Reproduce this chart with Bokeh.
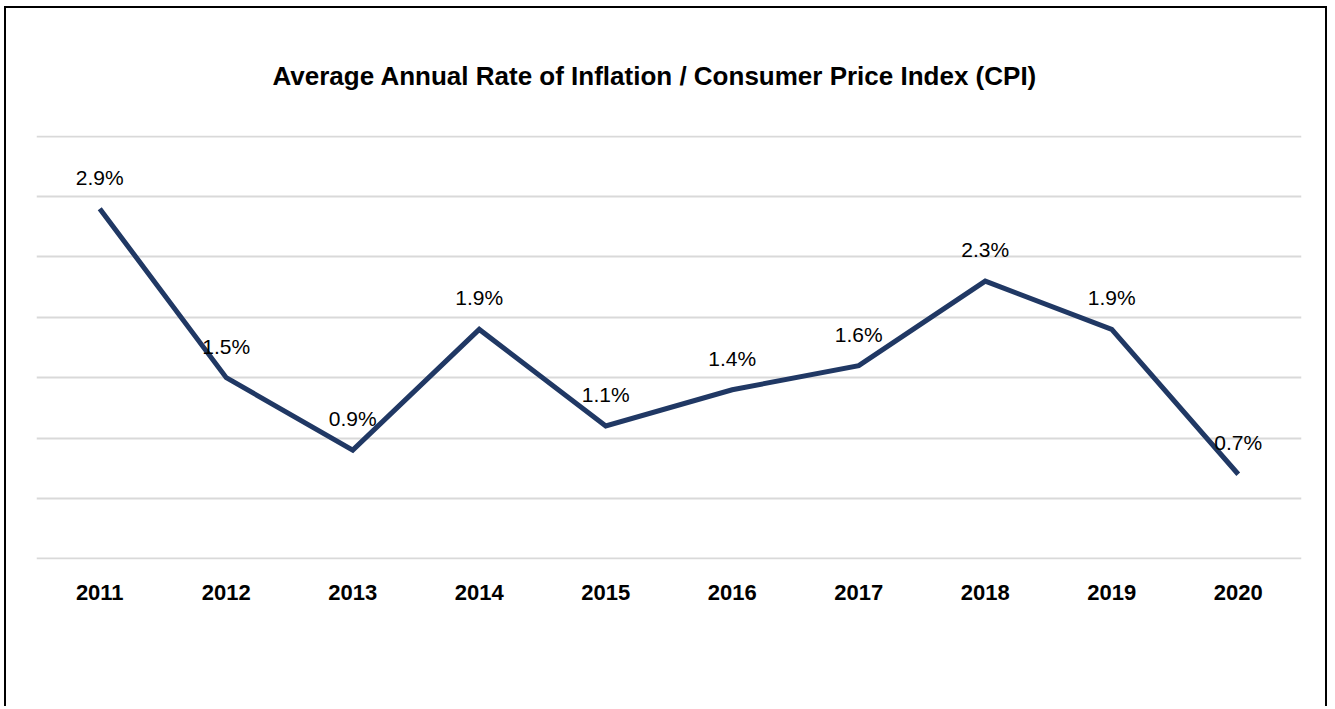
from bokeh.plotting import figure
from bokeh.models import ColumnDataSource, SingleIntervalTicker, LabelSet, Range1d
from bokeh.core.properties import value
from bokeh.embed import file_html
from bokeh.resources import INLINE

years = ["2011", "2012", "2013", "2014", "2015", "2016", "2017", "2018", "2019", "2020"]
rates = [2.9, 1.5, 0.9, 1.9, 1.1, 1.4, 1.6, 2.3, 1.9, 0.7]
labels = [f"{v:.1f}%" for v in rates]

FONT = "Liberation Sans"

src = ColumnDataSource(dict(year=years, rate=rates, label=labels))

p = figure(
    x_range=years, y_range=Range1d(-0.006, 3.506),
    width=1323, height=700,
    output_backend="svg", toolbar_location=None,
    title="Average Annual Rate of Inflation / Consumer Price Index (CPI)",
    min_border_left=30, min_border_right=28, min_border_top=127, min_border_bottom=149,
)
p.styles = {"border-left": "2px solid #000", "border-top": "2px solid #000",
            "border-right": "2px solid #000", "margin-left": "4px", "margin-top": "6px"}
p.outline_line_color = None
p.background_fill_color = "white"
p.border_fill_color = "white"

p.title.align = "left"
p.title.offset = 236
p.title.text_font = FONT
p.title.text_font_style = "bold"
p.title.text_font_size = "26px"
p.title.text_color = "#000000"
p.title.standoff = 90

p.line("year", "rate", source=src, line_color="#203864", line_width=5, line_join="miter")

p.add_layout(LabelSet(x="year", y="rate", text="label", source=src,
                      text_align="center", text_baseline="bottom", y_offset=20,
                      text_font=value(FONT), text_font_size="21px", text_color="#000000"))

p.xaxis.axis_line_color = None
p.xaxis.major_tick_line_color = None
p.xaxis.minor_tick_line_color = None
p.xaxis.major_label_text_font = FONT
p.xaxis.major_label_text_font_style = "bold"
p.xaxis.major_label_text_font_size = "22px"
p.xaxis.major_label_text_color = "#000000"
p.xaxis.major_label_standoff = 19

p.yaxis.visible = False
p.ygrid.ticker = SingleIntervalTicker(interval=0.5)
p.ygrid.grid_line_color = "#d9d9d9"
p.ygrid.grid_line_width = 2
p.xgrid.grid_line_color = None

open("out.html", "w").write(file_html(p, INLINE))
